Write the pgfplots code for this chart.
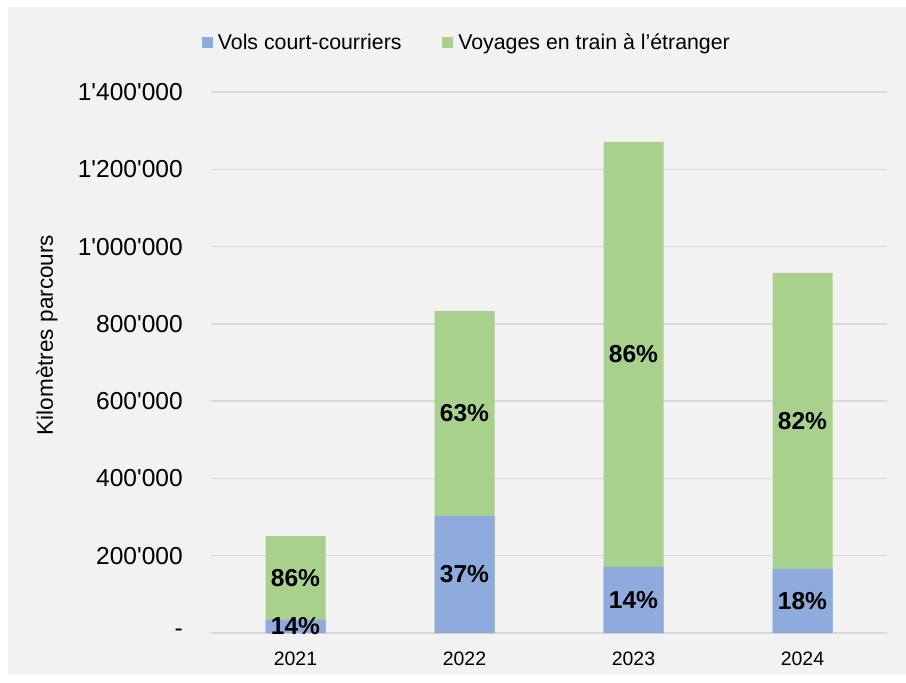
\documentclass[border=0pt]{standalone}
\usepackage{pgfplots}
\pgfplotsset{compat=1.18}
\usepackage{pgfplotstable}
\usepackage{fontspec}
\setmainfont{Liberation Sans}[Ligatures=TeXOff]

\definecolor{cblue}{HTML}{8FAADC}
\definecolor{cgreen}{HTML}{A9D18E}
\definecolor{bggray}{HTML}{F2F2F2}
\definecolor{gridgray}{HTML}{D9D9D9}

% km per year: short-haul flights (blue) and total incl. train trips abroad
\pgfplotstableread{
x blue total pb pg
0 34000 251000 14 86
1 303000 833000 37 63
2 171000 1271000 14 86
3 166000 932000 18 82
}\kmdata

\begin{document}
\begin{tikzpicture}
\path[use as bounding box] (0,0) rectangle (679.5pt,511.5pt);
\fill[bggray] (6pt,5.25pt) rectangle (679.5pt,506.25pt);
\begin{axis}[
  at={(158.25pt,36.75pt)}, anchor=south west,
  scale only axis, width=507pt, height=405.75pt,
  xmin=-0.5, xmax=3.5, ymin=0, ymax=1400000,
  xtick={0,1,2,3}, xticklabels={2021,2022,2023,2024},
  ytick={0,200000,400000,600000,800000,1000000,1200000,1400000},
  yticklabels={-,200'000,400'000,600'000,800'000,1'000'000,1'200'000,1'400'000},
  scaled y ticks=false,
  axis line style={draw=none},
  major tick length=0pt,
  ymajorgrids, grid style={draw=gridgray, line width=1.1pt},
  yticklabel style={anchor=east, inner sep=0pt, xshift=-21pt, font=\fontsize{18.4}{20}\selectfont},
  xticklabel style={anchor=north, inner sep=0pt, yshift=-14pt, font=\fontsize{14.6}{16}\selectfont},
  legend columns=2,
  legend image code/.code={\fill[#1, draw=none] (0pt,-4.1pt) rectangle (8.25pt,4.1pt);},
  legend style={draw=none, fill=none, at={(0.377,1.0915)}, anchor=center,
    font=\fontsize{16}{18}\selectfont, nodes={inner sep=0pt},
    /tikz/every odd column/.append style={column sep=3.75pt},
    /tikz/every even column/.append style={column sep=30.5pt}},
  every node near coord/.append style={anchor=center, font=\bfseries\fontsize{18.4}{20}\selectfont, text=black},
]
\addplot[ybar, bar width=45pt, bar shift=0pt, fill=cgreen, draw=none, forget plot] table[x=x, y=total] {\kmdata};
\addplot[ybar, bar width=45pt, bar shift=0pt, fill=cblue, draw=none, forget plot] table[x=x, y=blue] {\kmdata};
\addplot[draw=none, mark=none, forget plot, point meta=explicit symbolic,
  nodes near coords={\pgfplotspointmeta\%}] table[x=x, y expr=\thisrow{blue}/2, meta=pb] {\kmdata};
\addplot[draw=none, mark=none, forget plot, point meta=explicit symbolic,
  nodes near coords={\pgfplotspointmeta\%}] table[x=x, y expr=(\thisrow{blue}+\thisrow{total})/2, meta=pg] {\kmdata};
\addlegendimage{fill=cblue}
\addlegendentry{Vols court-courriers}
\addlegendimage{fill=cgreen}
\addlegendentry{Voyages en train à l’étranger}
\end{axis}
\node[rotate=90, font=\fontsize{16.9}{18}\selectfont] at (35.25pt,260.25pt) {Kilomètres parcours};
\end{tikzpicture}
\end{document}
